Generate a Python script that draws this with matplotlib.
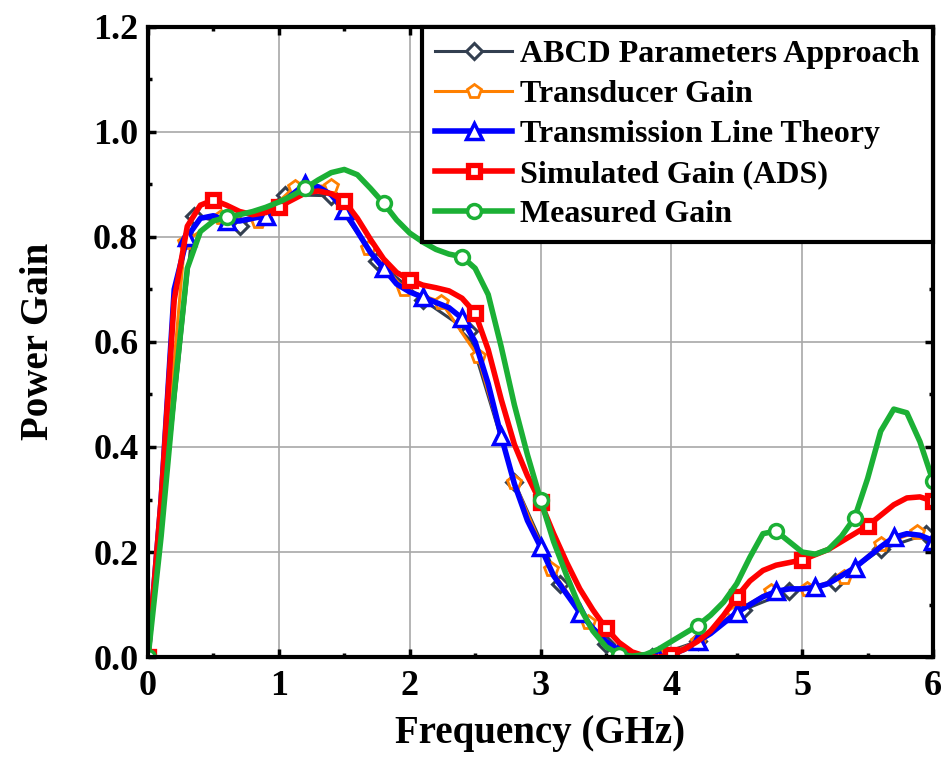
import numpy as np
import matplotlib
matplotlib.use('Agg')
import matplotlib.pyplot as plt

plt.rcParams['font.family'] = ['Liberation Serif', 'DejaVu Serif']
plt.rcParams['font.weight'] = 'bold'

# frequency grid for the smooth curves (GHz)
freq = np.round(np.arange(0, 6.05, 0.1), 1)

# Transmission Line Theory
tl_gain = [0.0, 0.30, 0.70, 0.80, 0.835, 0.84, 0.83, 0.83, 0.835, 0.84,
           0.86, 0.88, 0.90, 0.895, 0.88, 0.85, 0.81, 0.77, 0.74, 0.71,
           0.695, 0.685, 0.675, 0.665, 0.645, 0.60, 0.52, 0.42, 0.33, 0.26,
           0.21, 0.155, 0.12, 0.085, 0.055, 0.03, 0.012, 0.003, 0.0, 0.0,
           0.005, 0.015, 0.03, 0.045, 0.065, 0.085, 0.10, 0.115, 0.125, 0.13,
           0.13, 0.133, 0.14, 0.155, 0.17, 0.19, 0.21, 0.228, 0.235, 0.232,
           0.222]

# Simulated Gain (ADS)
ads_gain = [0.0, 0.30, 0.68, 0.82, 0.86, 0.87, 0.86, 0.848, 0.842, 0.846,
            0.857, 0.87, 0.883, 0.887, 0.882, 0.868, 0.835, 0.795, 0.758, 0.732,
            0.718, 0.708, 0.703, 0.697, 0.683, 0.655, 0.585, 0.49, 0.405, 0.345,
            0.295, 0.235, 0.18, 0.13, 0.09, 0.055, 0.028, 0.01, 0.002, 0.0,
            0.005, 0.015, 0.03, 0.05, 0.08, 0.115, 0.145, 0.165, 0.175, 0.18,
            0.185, 0.195, 0.205, 0.22, 0.235, 0.25, 0.27, 0.29, 0.303, 0.305,
            0.297]

# Measured Gain
meas_gain = [0.0, 0.23, 0.50, 0.74, 0.81, 0.83, 0.837, 0.842, 0.848, 0.856,
             0.866, 0.878, 0.892, 0.908, 0.922, 0.928, 0.918, 0.892, 0.864, 0.832,
             0.807, 0.79, 0.776, 0.767, 0.762, 0.74, 0.69, 0.59, 0.48, 0.385,
             0.30, 0.22, 0.155, 0.095, 0.05, 0.02, 0.005, 0.002, 0.005, 0.015,
             0.03, 0.045, 0.06, 0.08, 0.105, 0.14, 0.19, 0.235, 0.24, 0.22,
             0.20, 0.196, 0.205, 0.23, 0.265, 0.34, 0.43, 0.472, 0.465, 0.41,
             0.335]

# ABCD Parameters Approach
abcd_freq = [0.0, 0.35, 0.7, 1.05, 1.4, 1.75, 2.1, 2.45, 2.8, 3.15, 3.5, 3.85,
             4.2, 4.55, 4.9, 5.25, 5.6, 5.95]
abcd_gain = [0.0, 0.84, 0.82, 0.88, 0.878, 0.754, 0.68, 0.62, 0.333, 0.139, 0.025,
             0.0, 0.03, 0.09, 0.125, 0.143, 0.205, 0.234]

# Transducer Gain
td_freq = [0.0, 0.28, 0.56, 0.84, 1.12, 1.4, 1.68, 1.96, 2.24, 2.52, 2.8, 3.08,
           3.36, 3.64, 3.92, 4.2, 4.48, 4.76, 5.04, 5.32, 5.6, 5.88]
td_gain = [0.0, 0.79, 0.838, 0.83, 0.895, 0.897, 0.778, 0.70, 0.676, 0.573, 0.333,
           0.168, 0.067, 0.0, 0.0, 0.03, 0.085, 0.126, 0.13, 0.152, 0.215, 0.238]

fig = plt.figure(figsize=(9.46, 7.58), dpi=100)
ax = fig.add_axes([0.1565, 0.133, 0.8298, 0.832])

ax.plot(abcd_freq, abcd_gain, color='#333F50', lw=2.2, marker='D', ms=8,
        mfc='white', mec='#333F50', mew=2.2, label='ABCD Parameters Approach')
ax.plot(td_freq, td_gain, color='#FF8000', lw=2.2, marker='p', ms=10.5,
        mfc='white', mec='#FF8000', mew=2, label='Transducer Gain')
ax.plot(freq, tl_gain, color='#0000FF', lw=4, marker='^', ms=12,
        mfc='white', mec='#0000FF', mew=2.5, markevery=3, label='Transmission Line Theory')
ax.plot(freq, ads_gain, color='#FF0000', lw=4, marker='s', ms=8,
        mfc='white', mec='#FF0000', mew=3.8, markevery=5, label='Simulated Gain (ADS)')
ax.plot(freq, meas_gain, color='#1BB035', lw=4, marker='o', ms=10,
        mfc='white', mec='#1BB035', mew=2.5, markevery=6, label='Measured Gain')

ax.set_xlim(0, 6)
ax.set_ylim(0, 1.2)
ax.set_xticks(range(7))
ax.set_yticks([0.0, 0.2, 0.4, 0.6, 0.8, 1.0, 1.2])
ax.set_yticklabels(['0.0', '0.2', '0.4', '0.6', '0.8', '1.0', '1.2'])
ax.set_xticks(np.arange(0.5, 6, 1.0), minor=True)
ax.set_yticks(np.arange(0.1, 1.2, 0.2), minor=True)
ax.grid(which='major', color='#A8A8A8', lw=1.2)
ax.set_axisbelow(True)

ax.tick_params(which='both', direction='in', top=True, right=True, width=2.5)
ax.tick_params(which='major', length=6, labelsize=26)
ax.tick_params(axis='x', which='major', pad=9)
ax.tick_params(axis='y', which='major', pad=7)
ax.tick_params(which='minor', length=3)
for s in ax.spines.values():
    s.set_linewidth(3)

ax.set_xlabel('Frequency (GHz)', fontsize=28, fontweight='bold', labelpad=9)
ax.set_ylabel('Power Gain', fontsize=28, fontweight='bold', labelpad=26)

leg = ax.legend(loc='upper right', fontsize=23, frameon=True, fancybox=False,
                edgecolor='black', framealpha=1, borderaxespad=0.0,
                handlelength=2.4, handletextpad=0.25, labelspacing=0.33,
                borderpad=0.42)
leg.get_frame().set_linewidth(3)

fig.savefig('out.png', dpi=100)
